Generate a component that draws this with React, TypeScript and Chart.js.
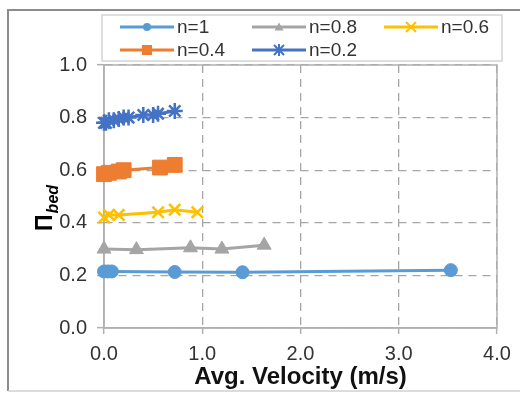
import React, { useEffect, useRef } from "react";
import { Chart, registerables } from "chart.js";

Chart.register(...registerables);

// ---- data ----
const seriesNames = ["n=1", "n=0.8", "n=0.6", "n=0.4", "n=0.2"];
const n1V = [0.0, 0.04, 0.08, 0.72, 1.41, 3.53];
const n1Y = [0.215, 0.215, 0.215, 0.213, 0.212, 0.22];
const n08V = [0.0, 0.33, 0.88, 1.2, 1.63];
const n08Y = [0.3, 0.298, 0.305, 0.3, 0.315];
const n06V = [0.0, 0.05, 0.15, 0.55, 0.72, 0.95];
const n06Y = [0.42, 0.43, 0.43, 0.44, 0.45, 0.44];
const n04V = [0.0, 0.05, 0.15, 0.2, 0.57, 0.72];
const n04Y = [0.585, 0.59, 0.595, 0.6, 0.61, 0.62];
const n02V = [0.0, 0.02, 0.05, 0.1, 0.15, 0.2, 0.25, 0.4, 0.5, 0.55, 0.72];
const n02Y = [0.78, 0.78, 0.79, 0.79, 0.795, 0.8, 0.8, 0.81, 0.81, 0.815, 0.825];
const xTicks = [0, 1, 2, 3, 4];
const yTicks = [0, 0.2, 0.4, 0.6, 0.8, 1.0];
const xTitle = "Avg. Velocity (m/s)";
const yTitleMain = "Π";
const yTitleSub = "bed";

const colors = ["#5B9BD5", "#A5A5A5", "#FFC000", "#ED7D31", "#4472C4"];
const styles = ["circle", "triangle", "crossRot", "rect", "star"];
const radii = [6.5, 8, 8, 10.5, 8];

const toPts = (xs: number[], ys: number[]) => xs.map((x, i) => ({ x, y: ys[i] }));

const FONT = "'Liberation Sans', Arial, sans-serif";

function drawPointLocal(ctx: CanvasRenderingContext2D, style: string, r: number, x: number, y: number) {
  ctx.beginPath();
  if (style === "circle") {
    ctx.arc(x, y, r, 0, Math.PI * 2);
    ctx.fill();
  } else if (style === "triangle") {
    ctx.moveTo(x, y - r);
    ctx.lineTo(x + r, y + r * 0.8);
    ctx.lineTo(x - r, y + r * 0.8);
    ctx.closePath();
    ctx.fill();
  } else if (style === "rect") {
    ctx.rect(x - r, y - r, 2 * r, 2 * r);
    ctx.fill();
  } else if (style === "crossRot") {
    ctx.moveTo(x - r, y - r);
    ctx.lineTo(x + r, y + r);
    ctx.moveTo(x + r, y - r);
    ctx.lineTo(x - r, y + r);
    ctx.stroke();
  } else if (style === "star") {
    ctx.moveTo(x - r, y - r);
    ctx.lineTo(x + r, y + r);
    ctx.moveTo(x + r, y - r);
    ctx.lineTo(x - r, y + r);
    ctx.moveTo(x, y - r * 1.2);
    ctx.lineTo(x, y + r * 1.2);
    ctx.stroke();
  }
}

const legendMarkerR = [4, 4.5, 5, 5, 5];

const framePlugin = {
  id: "frame",
  beforeDraw(chart: any) {
    const { ctx, width, height } = chart;
    ctx.save();
    ctx.fillStyle = "#fff";
    ctx.fillRect(0, 0, width, height);
    ctx.strokeStyle = "#8c8c8c";
    ctx.lineWidth = 2;
    ctx.beginPath();
    ctx.moveTo(width, 10);
    ctx.lineTo(8, 10);
    ctx.lineTo(8, 391);
    ctx.stroke();
    ctx.strokeStyle = "#d0d0d0";
    ctx.lineWidth = 1.5;
    ctx.beginPath();
    ctx.moveTo(8, 391);
    ctx.lineTo(width, 391);
    ctx.stroke();
    ctx.restore();
  },
  beforeDatasetsDraw(chart: any) {
    const { ctx, chartArea } = chart;
    ctx.save();
    ctx.strokeStyle = "#b0b0b0";
    ctx.lineWidth = 1.5;
    ctx.strokeRect(chartArea.left, chartArea.top, chartArea.right - chartArea.left, chartArea.bottom - chartArea.top);
    ctx.restore();
  },
  afterDraw(chart: any) {
    const { ctx } = chart;
    // y-axis title
    ctx.save();
    ctx.translate(52, 231);
    ctx.rotate(-Math.PI / 2);
    ctx.fillStyle = "#000";
    ctx.textBaseline = "alphabetic";
    ctx.textAlign = "left";
    ctx.font = `bold 23px ${FONT}`;
    ctx.fillText(yTitleMain, 0, 0);
    const w = ctx.measureText(yTitleMain).width;
    ctx.font = `italic bold 16px ${FONT}`;
    ctx.fillText(yTitleSub, w + 1, 6);
    ctx.restore();

    // legend
    ctx.save();
    ctx.strokeStyle = "#d4d4d4";
    ctx.lineWidth = 1.5;
    ctx.strokeRect(102, 15, 400, 46);
    const cols = [120, 252, 384];
    const rows = [27, 50];
    chart.data.datasets.forEach((ds: any, i: number) => {
      const x0 = cols[i % 3];
      const y = rows[Math.floor(i / 3)];
      ctx.strokeStyle = ds.borderColor;
      ctx.lineWidth = 3;
      ctx.beginPath();
      ctx.moveTo(x0, y);
      ctx.lineTo(x0 + 54, y);
      ctx.stroke();
      ctx.fillStyle = ds.pointBackgroundColor;
      ctx.strokeStyle = ds.pointBorderColor;
      ctx.lineWidth = 2;
      drawPointLocal(ctx, ds.pointStyle, legendMarkerR[i], x0 + 27, y);
      ctx.fillStyle = "#333";
      ctx.font = `19px ${FONT}`;
      ctx.textBaseline = "middle";
      ctx.textAlign = "left";
      ctx.fillText(ds.label, x0 + 57, y + 1);
    });
    ctx.restore();
  },
};

export default function App() {
  const ref = useRef<HTMLCanvasElement | null>(null);
  useEffect(() => {
    if (!ref.current) return;
    const data = [toPts(n1V, n1Y), toPts(n08V, n08Y), toPts(n06V, n06Y), toPts(n04V, n04Y), toPts(n02V, n02Y)];
    const chart = new Chart(ref.current, {
      type: "line",
      data: {
        datasets: data.map((d, i) => ({
          label: seriesNames[i],
          data: d,
          borderColor: colors[i],
          backgroundColor: colors[i],
          pointBackgroundColor: colors[i],
          pointBorderColor: colors[i],
          pointStyle: styles[i] as any,
          pointRadius: radii[i],
          pointBorderWidth: styles[i] === "crossRot" || styles[i] === "star" ? 2.5 : 1,
          borderWidth: 3,
          tension: 0,
          fill: false,
          clip: false as any,
        })),
      },
      plugins: [framePlugin],
      options: {
        animation: false,
        responsive: false,
        layout: { padding: { left: 0, top: 65, right: 23, bottom: 0 } },
        plugins: { legend: { display: false }, tooltip: { enabled: false } },
        scales: {
          x: {
            type: "linear",
            min: 0,
            max: 4,
            afterBuildTicks: (s: any) => {
              s.ticks = xTicks.map((v) => ({ value: v }));
            },
            afterFit: (s: any) => {
              s.height = 65;
            },
            ticks: {
              callback: (v: any) => Number(v).toFixed(1),
              font: { family: FONT, size: 20 },
              color: "#333",
              padding: 8,
              maxRotation: 0,
            },
            grid: {
              color: "#a6a6a6",
              lineWidth: 1.3,
              borderDash: [8, 6] as any,
              tickLength: 6,
              tickColor: "#b0b0b0",
              tickWidth: 1.5,
              tickBorderDash: [] as any,
            } as any,
            border: { display: true, color: "#b0b0b0", width: 1.5, dash: [8, 6] } as any,
            title: {
              display: true,
              text: xTitle,
              font: { family: FONT, size: 24, weight: "bold" },
              color: "#111",
              padding: { top: 0, bottom: 1 },
            },
          },
          y: {
            type: "linear",
            min: 0,
            max: 1,
            afterBuildTicks: (s: any) => {
              s.ticks = yTicks.map((v) => ({ value: v }));
            },
            afterFit: (s: any) => {
              s.width = 104;
            },
            ticks: {
              callback: (v: any) => Number(v).toFixed(1),
              font: { family: FONT, size: 20 },
              color: "#333",
              padding: 10,
            },
            grid: {
              color: "#a6a6a6",
              lineWidth: 1.3,
              borderDash: [8, 6] as any,
              tickLength: 7,
              tickColor: "#b0b0b0",
              tickWidth: 1.5,
              tickBorderDash: [] as any,
            } as any,
            border: { display: true, color: "#b0b0b0", width: 1.5, dash: [8, 6] } as any,
          },
        },
      },
    });
    return () => chart.destroy();
  }, []);
  return (
    <div style={{ position: "fixed", left: 0, top: 0, width: 520, height: 393 }}>
      <canvas ref={ref} width={520} height={393} style={{ display: "block", width: 520, height: 393 }} />
    </div>
  );
}
